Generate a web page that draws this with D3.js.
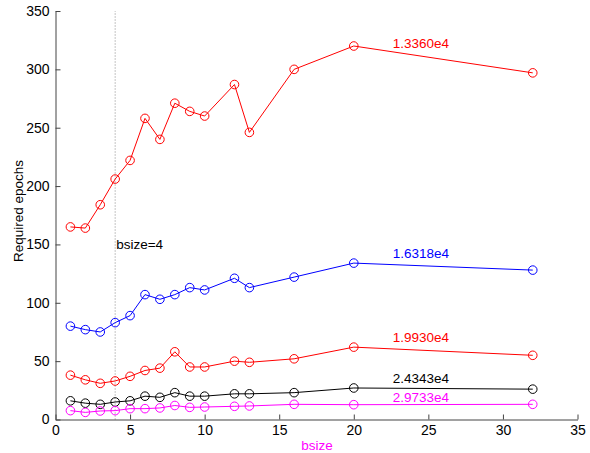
<!DOCTYPE html>
<html><head><meta charset="utf-8">
<script src="https://cdn.jsdelivr.net/npm/d3@7"></script>
<style>body{margin:0;background:#fff}svg{display:block}text{font-family:"Liberation Sans",Arial,sans-serif}</style>
</head><body><svg id="c" width="590" height="453"></svg>
<script>
const bsize = [1,2,3,4,5,6,7,8,9,10,12,13,16,20,32];
const s1 = [165,164,184,206,222,258,240,271,264,260,287,246,300,320,297];
const s2 = [80,77,75,83,89,107,103,107,113,111,121,113,122,134,128];
const s3 = [38,34,31,33,37,42,44,58,45,45,50,49,52,62,55];
const s4 = [16,14,13,15,16,20,19,23,20,20,22,22,23,27,26];
const s5 = [7.6,6.1,7.3,7.6,9.3,9.3,9.9,12,10.4,10.7,11.3,11.6,13,12.7,13];
const seriesLabels = ["1.3360e4","1.6318e4","1.9930e4","2.4343e4","2.9733e4"];
const labelY = [322.5,142.5,70.5,35.5,19];
const xTicks = [0,5,10,15,20,25,30,35];
const yTicks = [0,50,100,150,200,250,300,350];
const colors = ["#ff0000","#0000ff","#ff0000","#000000","#ff00ff"];

const svg = d3.select("#c");
const x = d3.scaleLinear().domain([0,35]).range([55.5,577.5]);
const y = d3.scaleLinear().domain([0,350]).range([419.5,11]);

// dotted line at bsize=4
svg.append("line").attr("x1",x(4)).attr("x2",x(4)).attr("y1",y(0)).attr("y2",y(350))
  .attr("stroke","#888").attr("stroke-dasharray","1,2").attr("stroke-width",1);
svg.append("text").attr("x",x(4)+1).attr("y",y(150)).attr("dy","0.35em")
  .attr("font-size",13.5).attr("fill","#000").text("bsize=4");

const xa = svg.append("g").attr("transform",`translate(0,${y(0)})`)
  .call(d3.axisBottom(x).tickValues(xTicks).tickSizeInner(-5).tickSizeOuter(0).tickPadding(6));
const ya = svg.append("g").attr("transform",`translate(${x(0)},0)`)
  .call(d3.axisLeft(y).tickValues(yTicks).tickSizeInner(-5).tickSizeOuter(0).tickPadding(6));
[xa,ya].forEach(a=>{
  a.selectAll("path").attr("stroke","#444");
  a.selectAll("line").attr("stroke","#444");
  a.selectAll("text").attr("font-size",14).attr("fill","#000").attr("font-family","Liberation Sans, Arial, sans-serif");
});

const all = [s1,s2,s3,s4,s5];
const line = d3.line().x((d,i)=>x(bsize[i])).y(d=>y(d));
all.forEach((s,k)=>{
  const g = svg.append("g");
  g.append("path").attr("d",line(s)).attr("fill","none").attr("stroke",colors[k]).attr("stroke-width",1);
  g.selectAll("circle").data(s).join("circle")
    .attr("cx",(d,i)=>x(bsize[i])).attr("cy",d=>y(d)).attr("r",4.3)
    .attr("fill","none").attr("stroke",colors[k]).attr("stroke-width",1);
  svg.append("text").attr("x",x(24.5)).attr("y",y(labelY[k])).attr("dy","0.35em")
    .attr("text-anchor","middle").attr("font-size",13.5).attr("fill",colors[k]).text(seriesLabels[k]);
});

svg.append("text").attr("transform",`translate(23,${211}) rotate(-90)`)
  .attr("text-anchor","middle").attr("font-size",13.5).attr("fill","#000").text("Required epochs");
svg.append("text").attr("x",317).attr("y",445).attr("dy","0.35em")
  .attr("text-anchor","middle").attr("font-size",13.5).attr("fill","#ff00ff").text("bsize");
</script></body></html>
